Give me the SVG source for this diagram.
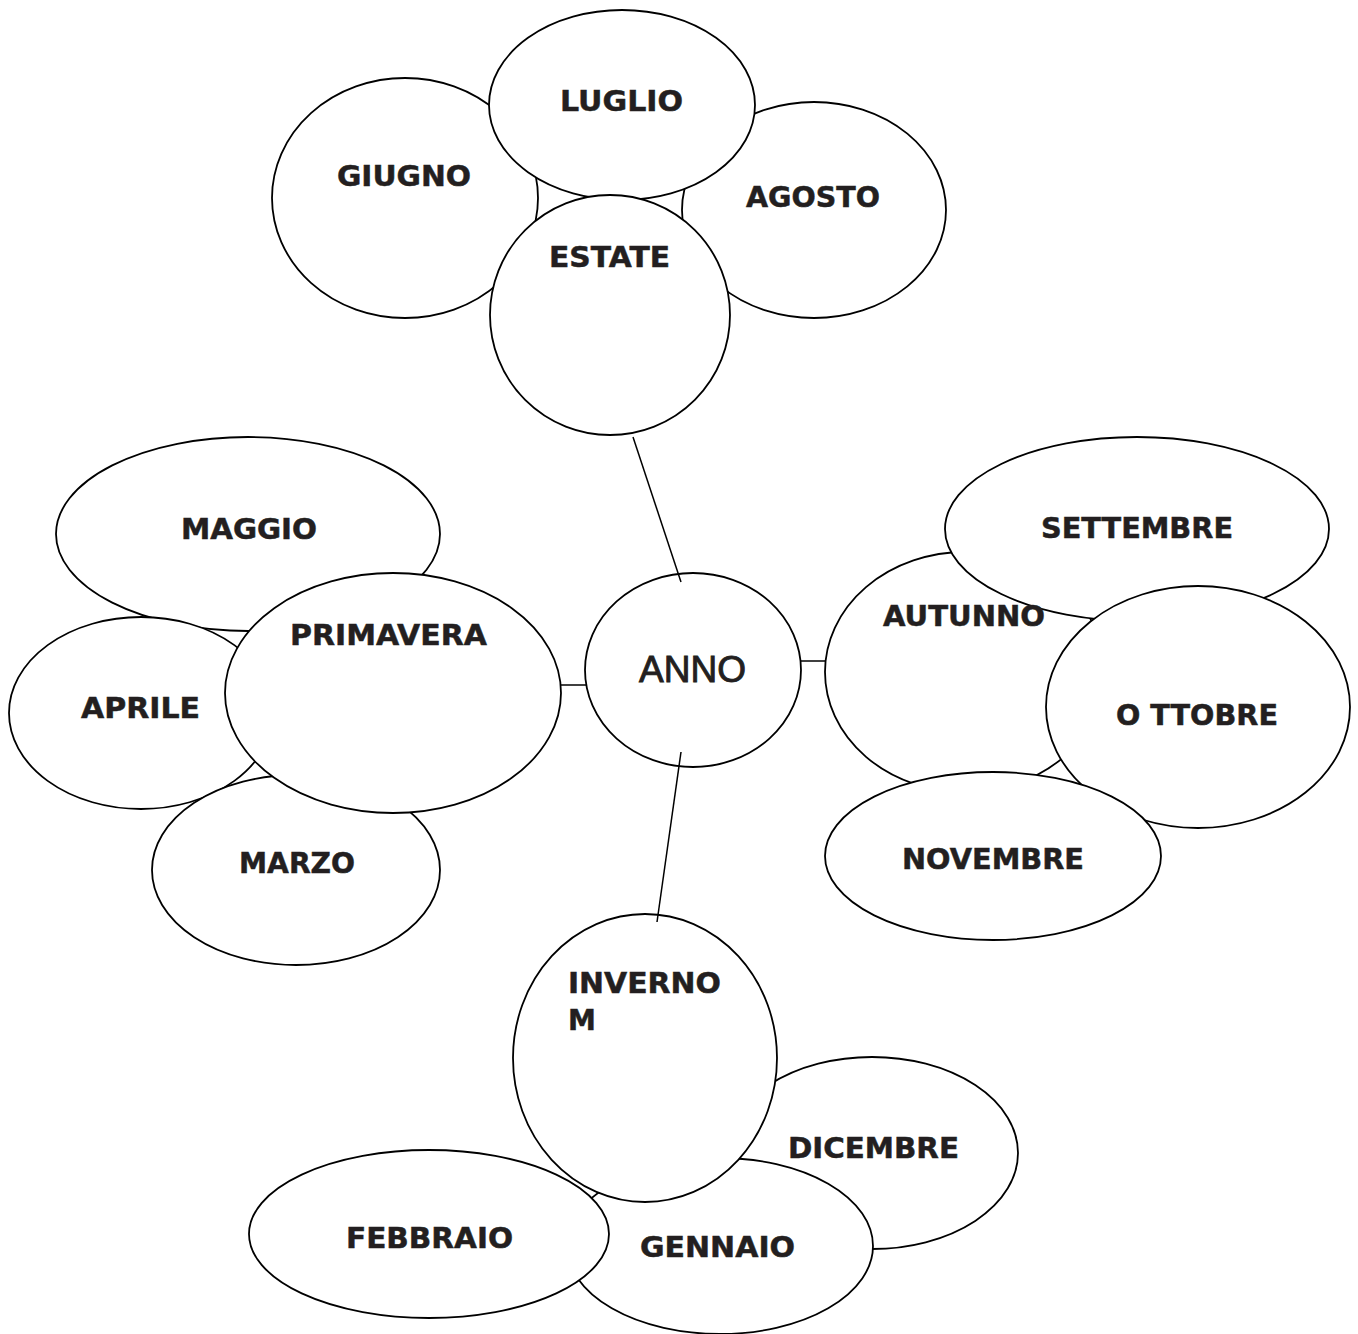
<svg xmlns="http://www.w3.org/2000/svg" width="1358" height="1334" viewBox="0 0 1358 1334">
<style>
ellipse{fill:#fff;stroke:#000;stroke-width:1.8}
text{font-family:"DejaVu Sans",Verdana,sans-serif;font-weight:bold;font-size:28px;fill:#231f20;stroke:#231f20;stroke-width:0.5;text-anchor:middle}
text.l{text-anchor:start}
text.anno{font-family:"Liberation Sans",Arial,sans-serif;font-weight:normal;font-size:37px;stroke-width:0.9}
.conn line{stroke:#000;stroke-width:1.5}
</style>
<rect width="1358" height="1334" fill="#fff"/>
<g id="giugno"><ellipse cx="405" cy="198" rx="133" ry="120"/><text x="404" y="186" textLength="134" lengthAdjust="spacingAndGlyphs">GIUGNO</text></g>
<g id="agosto"><ellipse cx="814" cy="210" rx="132" ry="108"/><text x="813" y="207" textLength="134" lengthAdjust="spacingAndGlyphs">AGOSTO</text></g>
<g id="luglio"><ellipse cx="622" cy="105" rx="133" ry="95"/><text x="621.5" y="111" textLength="123" lengthAdjust="spacingAndGlyphs">LUGLIO</text></g>
<g id="estate"><ellipse cx="610" cy="315" rx="120" ry="120"/><text x="609.5" y="267" textLength="121" lengthAdjust="spacingAndGlyphs">ESTATE</text></g>
<g id="maggio"><ellipse cx="248" cy="534" rx="192" ry="97"/><text x="249" y="539" textLength="136" lengthAdjust="spacingAndGlyphs">MAGGIO</text></g>
<g id="aprile"><ellipse cx="141" cy="713" rx="132" ry="96"/><text x="140.5" y="718" textLength="119" lengthAdjust="spacingAndGlyphs">APRILE</text></g>
<g id="marzo"><ellipse cx="296" cy="870" rx="144" ry="95"/><text x="297" y="873" textLength="116" lengthAdjust="spacingAndGlyphs">MARZO</text></g>
<g id="primavera"><ellipse cx="393" cy="693" rx="168" ry="120"/><text x="388.5" y="645" textLength="197" lengthAdjust="spacingAndGlyphs">PRIMAVERA</text></g>
<g id="anno"><ellipse cx="693" cy="670" rx="108" ry="97"/><text class="anno" x="692.5" y="682" textLength="107" lengthAdjust="spacingAndGlyphs">ANNO</text></g>
<g id="autunno"><ellipse cx="965" cy="672" rx="140" ry="120"/></g>
<g id="settembre"><ellipse cx="1137" cy="529" rx="192" ry="92"/><text x="1137" y="538" textLength="192" lengthAdjust="spacingAndGlyphs">SETTEMBRE</text></g>
<g id="autunno-label"><text x="964" y="626" textLength="162" lengthAdjust="spacingAndGlyphs">AUTUNNO</text></g>
<g id="ottobre"><ellipse cx="1198" cy="707" rx="152" ry="121"/><text x="1197" y="725" textLength="162" lengthAdjust="spacingAndGlyphs">O TTOBRE</text></g>
<g id="novembre"><ellipse cx="993" cy="856" rx="168" ry="84"/><text x="993" y="869" textLength="182" lengthAdjust="spacingAndGlyphs">NOVEMBRE</text></g>
<g id="dicembre"><ellipse cx="872" cy="1153" rx="146" ry="96"/><text x="873.5" y="1158" textLength="171" lengthAdjust="spacingAndGlyphs">DICEMBRE</text></g>
<g id="gennaio"><ellipse cx="720" cy="1246" rx="153" ry="88"/><text x="717.5" y="1257" textLength="155" lengthAdjust="spacingAndGlyphs">GENNAIO</text></g>
<g id="inverno"><ellipse cx="645" cy="1058" rx="132" ry="144"/><text class="l" x="568" y="993" textLength="153" lengthAdjust="spacingAndGlyphs">INVERNO</text><text class="l" x="568" y="1030">M</text></g>
<g id="febbraio"><ellipse cx="429" cy="1234" rx="180" ry="84"/><text x="429.5" y="1248" textLength="167" lengthAdjust="spacingAndGlyphs">FEBBRAIO</text></g>
<g class="conn" id="connectors">
<line x1="633" y1="437" x2="681" y2="582"/>
<line x1="561" y1="685" x2="586" y2="685"/>
<line x1="801" y1="661" x2="826" y2="661"/>
<line x1="681" y1="752" x2="657" y2="922"/>
</g>
</svg>
